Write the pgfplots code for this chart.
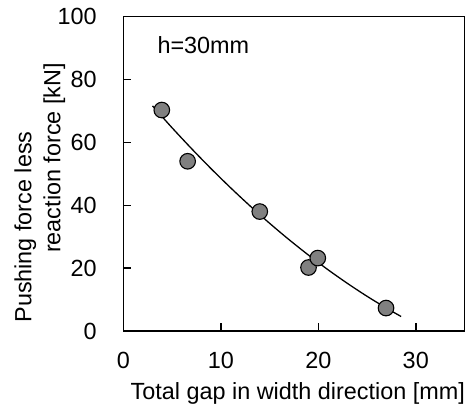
\documentclass[border=0pt]{standalone}
\usepackage{pgfplots}
\pgfplotsset{compat=1.18}
\usepackage{fontspec}
\setmainfont{Liberation Sans}

\definecolor{markgray}{RGB}{128,128,128}

% measured data: total gap vs. net pushing force, h = 30 mm
\pgfplotstableread{
gap   force
3.95  70.3
6.6   54.0
14.0  38.0
19.0  20.2
19.95 23.2
26.95 7.3
}\measured

% fitted trend curve
\pgfplotstableread{
gap   force
3.0   71.61
5.0   64.67
7.0   58.03
9.0   51.66
11.0  45.59
13.0  39.80
15.0  34.29
17.0  29.07
19.0  24.14
21.0  19.49
23.0  15.13
25.0  11.05
27.0  7.27
28.5  4.61
}\trend

\newcommand{\lblfont}{\fontsize{23.4bp}{28bp}\selectfont}

\begin{document}
\begin{tikzpicture}
\path[use as bounding box] (-123.3bp,-81bp) rectangle (349.7bp,331bp);
\begin{axis}[
  at={(0,0)}, anchor=south west,
  scale only axis,
  width=341.2bp, height=314.3bp,
  xmin=0, xmax=35, ymin=0, ymax=100,
  xtick={0,10,20,30},
  ytick={0,20,40,60,80,100},
  xtick pos=left, ytick pos=left,
  tick align=inside,
  major tick length=8bp,
  axis line style={line width=1.5bp},
  every tick/.style={black, line width=1.5bp},
  /pgf/number format/assume math mode=true,
  tick label style={font=\lblfont, inner sep=0pt},
  yticklabel style={anchor=east, xshift=-26.5bp},
  xticklabel style={anchor=north, yshift=-21bp},
  clip=false,
]
\addplot[black, line width=1.3bp, smooth, no marks] table[x=gap, y=force] {\trend};
\addplot[only marks, mark=*, mark size=7.8bp,
  mark options={fill=markgray, draw=black, line width=1.1bp}]
  table[x=gap, y=force] {\measured};
\end{axis}
% axis titles and annotation
\node[font=\lblfont, rotate=90, anchor=base] at (-92bp,104bp) {Pushing force less};
\node[font=\lblfont, rotate=90, anchor=base] at (-63bp,173bp) {reaction force [kN]};
\node[font=\lblfont, anchor=base] at (174.5bp,-68bp) {Total gap in width direction [mm]};
\node[font=\lblfont, anchor=base west, inner sep=0pt] at (34bp,277.7bp) {h=30mm};
\end{tikzpicture}
\end{document}
